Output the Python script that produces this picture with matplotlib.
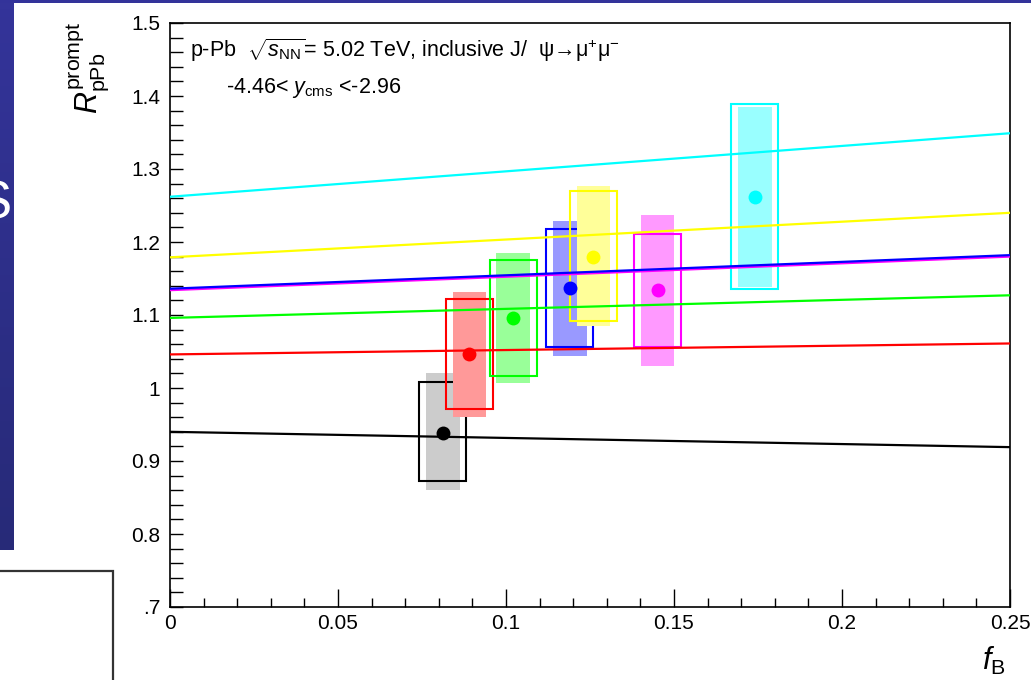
import matplotlib
matplotlib.use("Agg")
import matplotlib.pyplot as plt
import numpy as np
from matplotlib.patches import Rectangle
from matplotlib.colors import LinearSegmentedColormap
from matplotlib.ticker import MultipleLocator, FixedLocator, FixedFormatter

plt.rcParams['font.family'] = ['Liberation Sans', 'DejaVu Sans']
plt.rcParams['mathtext.fontset'] = 'custom'
plt.rcParams['mathtext.rm'] = 'Liberation Sans'
plt.rcParams['mathtext.it'] = 'Liberation Sans:italic'
plt.rcParams['mathtext.bf'] = 'Liberation Sans:bold'

# ---------------- data ----------------
colors = ['black', '#ff0000', '#00ff00', '#0000ff', '#ffff00', '#ff00ff', '#00ffff']
fill_colors = ['#cccccc', '#ff9999', '#99ff99', '#9999ff', '#ffff99', '#ff99ff', '#99ffff']
fb_points = [0.0812, 0.0891, 0.1021, 0.1190, 0.1260, 0.1451, 0.1741]
r_points = [0.938, 1.047, 1.096, 1.137, 1.179, 1.134, 1.262]
fill_lo = [0.860, 0.960, 1.007, 1.044, 1.085, 1.030, 1.138]
fill_hi = [1.021, 1.132, 1.185, 1.229, 1.277, 1.237, 1.385]
open_lo = [0.873, 0.971, 1.016, 1.056, 1.092, 1.056, 1.136]
open_hi = [1.008, 1.122, 1.175, 1.218, 1.270, 1.211, 1.389]
fb_line = [0.0, 0.25]
line_start = [0.940, 1.046, 1.096, 1.136, 1.179, 1.134, 1.262]
line_end = [0.919, 1.061, 1.127, 1.182, 1.240, 1.180, 1.349]
draw_order = [0, 1, 2, 3, 4, 5, 6]
line_order = [0, 1, 2, 5, 3, 4, 6]
fill_halfwidth = 0.005
open_halfwidth = 0.007

xtick_vals = [0, 0.05, 0.1, 0.15, 0.2, 0.25]
xtick_labels = ['0', '0.05', '0.1', '0.15', '0.2', '0.25']
ytick_vals = [0.7, 0.8, 0.9, 1.0, 1.1, 1.2, 1.3, 1.4, 1.5]
ytick_labels = ['.7', '0.8', '0.9', '1', '1.1', '1.2', '1.3', '1.4', '1.5']

W, H = 1031, 680
fig = plt.figure(figsize=(W / 100, H / 100), dpi=100)
fig.patch.set_facecolor('white')

def fx(px):
    return px / W

def fy(py):
    return 1 - py / H

# slide decorations
navy = '#2e2d87'
bg = fig.add_axes([0, fy(550), fx(14), 1 - fy(550)], zorder=0)
grad_cmap = LinearSegmentedColormap.from_list('navy', ['#272a78', '#34349a'])
bg.imshow(np.linspace(0, 1, 64).reshape(-1, 1), aspect='auto', cmap=grad_cmap,
          origin='lower', extent=[0, 1, 0, 1])
bg.set_axis_off()
fig.patches.append(Rectangle((0, fy(3)), 1, fy(0) - fy(3), transform=fig.transFigure,
                             facecolor='#33339a', edgecolor='none', zorder=0))
fig.text(fx(12), fy(204), 'S', color='white', fontsize=38, ha='right', va='center', zorder=5)
fig.patches.append(Rectangle((fx(-3), fy(683)), fx(116), fy(571) - fy(683), transform=fig.transFigure,
                             facecolor='white', edgecolor='#333333', linewidth=1.6, zorder=0))

ax = fig.add_axes([fx(170), fy(607), fx(1010) - fx(170), fy(23) - fy(607)], zorder=2)
ax.set_xlim(0, 0.25)
ax.set_ylim(0.7, 1.5)

z = 2
for i in draw_order:
    ax.add_patch(Rectangle((fb_points[i] - fill_halfwidth, fill_lo[i]), 2 * fill_halfwidth,
                           fill_hi[i] - fill_lo[i], facecolor=fill_colors[i], edgecolor='none', zorder=z))
    ax.add_patch(Rectangle((fb_points[i] - open_halfwidth, open_lo[i]), 2 * open_halfwidth,
                           open_hi[i] - open_lo[i], facecolor='none', edgecolor=colors[i],
                           linewidth=1.5, zorder=z + 0.5))
    z += 1

for i in line_order:
    ax.plot(fb_line, [line_start[i], line_end[i]], color=colors[i], linewidth=1.6, zorder=20,
            solid_capstyle='butt')

for i in draw_order:
    ax.plot([fb_points[i]], [r_points[i]], 'o', color=colors[i], markersize=10,
            markeredgewidth=0, zorder=30)

ax.xaxis.set_major_locator(FixedLocator(xtick_vals))
ax.xaxis.set_major_formatter(FixedFormatter(xtick_labels))
ax.xaxis.set_minor_locator(MultipleLocator(0.01))
ax.yaxis.set_major_locator(FixedLocator(ytick_vals))
ax.yaxis.set_major_formatter(FixedFormatter(ytick_labels))
ax.yaxis.set_minor_locator(MultipleLocator(0.02))

ax.tick_params(axis='x', which='major', direction='in', length=13, width=1, labelsize=15, pad=5)
ax.tick_params(axis='x', which='minor', direction='in', length=6.5, width=1)
ax.tick_params(axis='y', which='major', direction='in', length=9.5, width=1, labelsize=15, pad=7)
ax.tick_params(axis='y', which='minor', direction='in', length=9.5, width=1)
for s in ax.spines.values():
    s.set_linewidth(1.2)

fig.text(fx(190), fy(57), r'p-Pb  $\sqrt{s_{\rm NN}}$= 5.02 TeV, inclusive J/  ψ→μ$^{+}$μ$^{-}$',
         fontsize=15.5, ha='left', va='baseline')
fig.text(fx(226), fy(93), r'-4.46< $y_{\rm cms}$ <-2.96', fontsize=15.5, ha='left', va='baseline')

fig.text(fx(88), fy(22), r'$R^{\rm prompt}_{\rm pPb}$', fontsize=22, rotation=90,
         ha='center', va='top')
fig.text(fx(1006), fy(670), r'$f_{\rm B}$', fontsize=22, ha='right', va='baseline')

fig.savefig('out.png', dpi=100)
